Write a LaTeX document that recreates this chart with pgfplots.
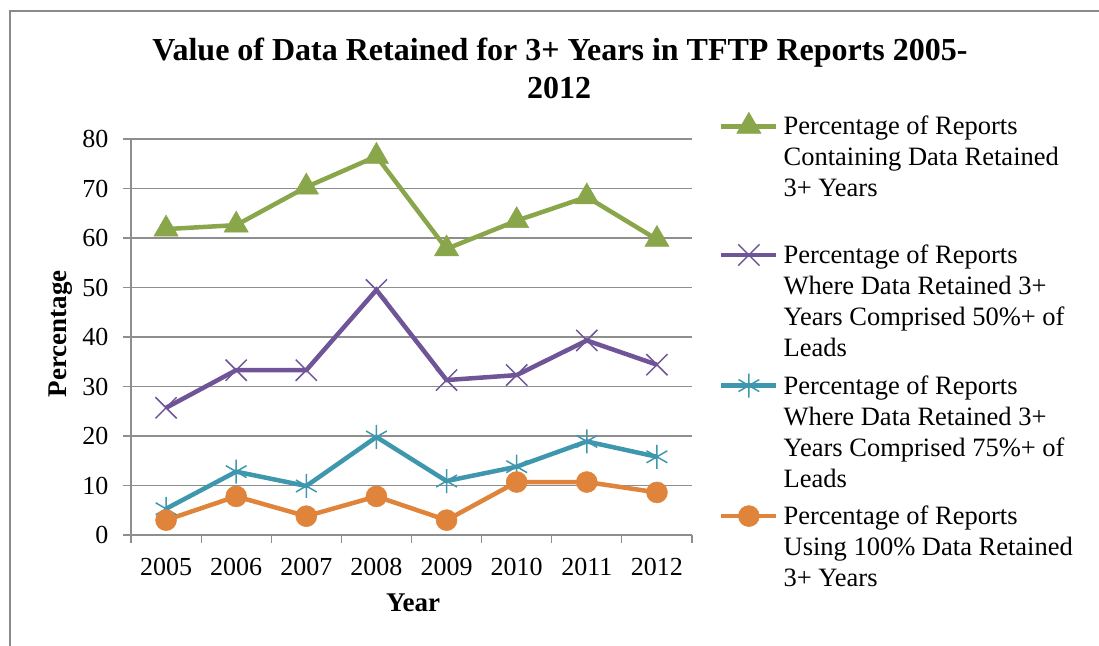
\documentclass[border=0pt]{standalone}
\usepackage{fontspec}
\setmainfont{Liberation Serif}
\usepackage{pgfplots}
\pgfplotsset{compat=1.18}
\definecolor{cgreen}{HTML}{8AA64B}
\definecolor{cpurple}{HTML}{6F5597}
\definecolor{cteal}{HTML}{3F97AE}
\definecolor{corange}{HTML}{DF843A}
\definecolor{gridgray}{HTML}{8E8E8E}
\definecolor{framegray}{HTML}{8A8A8A}
\begin{document}
\begin{tikzpicture}
\useasboundingbox (0,0) rectangle (1099bp,646bp);
\draw[color=framegray, line width=2.2bp] (10bp,0) -- (10bp,635bp) -- (1099bp,635bp);
\node[font=\fontsize{32bp}{39bp}\selectfont\bfseries, anchor=base] at (560bp,585bp) {Value of Data Retained for 3+ Years in TFTP Reports 2005-};
\node[font=\fontsize{32bp}{39bp}\selectfont\bfseries, anchor=base] at (559bp,547bp) {2012};
\begin{axis}[
  at={(131bp,111bp)}, anchor=south west,
  scale only axis, width=561bp, height=396bp,
  xmin=-0.5, xmax=7.5, ymin=0, ymax=80,
  xtick={0,...,7}, xticklabels={2005,2006,2007,2008,2009,2010,2011,2012},
  minor xtick={-0.5,0.5,...,7.5},
  ytick={0,10,...,80},
  tick align=outside,
  major tick length=8bp, minor tick length=8bp,
  major x tick style={draw=none},
  tick style={draw=gridgray, line width=1.2bp},
  ymajorgrids, grid style={draw=gridgray, line width=1.2bp},
  axis x line*=bottom, axis y line*=left,
  axis line style={-, draw=gridgray, line width=1.2bp},
  /pgf/number format/assume math mode=true,
  ticklabel style={font=\fontsize{26bp}{30bp}\selectfont},
  xticklabel style={yshift=-12bp},
  yticklabel style={xshift=-11bp},
  xlabel={Year}, ylabel={Percentage},
  label style={font=\fontsize{27bp}{32bp}\selectfont\bfseries},
  xlabel style={at={(rel axis cs:0.503,-0.172)}, anchor=center},
  ylabel style={at={(rel axis cs:-0.125,0.508)}, anchor=center},
  legend image code/.code={\draw[mark repeat=2,mark phase=2,#1] plot coordinates {(0bp,0bp)(27.5bp,0bp)(55bp,0bp)};},
  legend cell align=left,
  legend style={at={(1.048,1.068)}, anchor=north west, draw=none, fill=none,
    inner sep=0pt, row sep=108bp, column sep=5bp,
    nodes={inner sep=0pt},
    font=\fontsize{26.5bp}{31bp}\selectfont},
]
\addplot[color=cgreen, line width=4.5bp, mark=triangle*, mark size=14bp, mark options={solid, fill=cgreen, line width=0.5bp}]
  coordinates {(0,61.8)(1,62.6)(2,70.3)(3,76.5)(4,57.8)(5,63.5)(6,68.3)(7,59.7)};
\addlegendentry{\parbox[t]{300bp}{Percentage of Reports\\Containing Data Retained\\3+ Years}}
\addplot[color=cpurple, line width=4.5bp, mark=x, mark size=15bp, mark options={solid, line width=1.5bp}]
  coordinates {(0,25.7)(1,33.3)(2,33.3)(3,49.5)(4,31.3)(5,32.3)(6,39.3)(7,34.4)};
\addlegendentry{\parbox[t]{300bp}{Percentage of Reports\\Where Data Retained 3+\\Years Comprised 50\%+ of\\Leads}}
\addplot[color=cteal, line width=4.5bp, mark=asterisk, mark size=12bp, mark options={solid, line width=1.5bp}]
  coordinates {(0,5.3)(1,12.8)(2,9.9)(3,19.8)(4,10.9)(5,13.8)(6,18.9)(7,15.8)};
\addlegendentry{\parbox[t]{300bp}{Percentage of Reports\\Where Data Retained 3+\\Years Comprised 75\%+ of\\Leads}}
\addplot[color=corange, line width=4.5bp, mark=*, mark size=10.5bp, mark options={solid, fill=corange, line width=0.5bp}]
  coordinates {(0,3.0)(1,7.8)(2,3.8)(3,7.8)(4,3.0)(5,10.7)(6,10.7)(7,8.6)};
\addlegendentry{\parbox[t]{300bp}{Percentage of Reports\\Using 100\% Data Retained\\3+ Years}}
\end{axis}
\end{tikzpicture}
\end{document}
